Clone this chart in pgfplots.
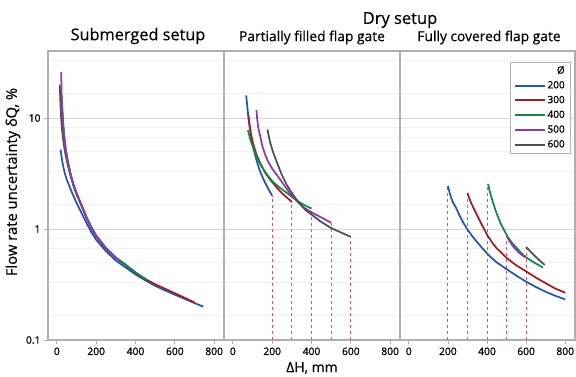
\documentclass[border=0pt]{standalone}
\usepackage{fontspec}
\setmainfont{Open Sans}[FakeBold=0.4]
\newfontfamily\tickfont{Open Sans}[FakeBold=1.0]
\usepackage{pgfplots}
\pgfplotsset{compat=1.18}
\definecolor{cblue}{RGB}{33,87,176}
\definecolor{cred}{RGB}{160,30,35}
\definecolor{cgreen}{RGB}{20,135,70}
\definecolor{cpurple}{RGB}{140,60,170}
\definecolor{cgray}{RGB}{80,80,80}
\definecolor{cdash}{RGB}{235,80,85}
\definecolor{frame}{RGB}{175,175,175}
\pgfplotsset{
 every axis/.append style={
  scale only axis, height=289pt,
  xmin=-45, xmax=850, ymin=0.1, ymax=40.2,
  xtick={0,200,400,600,800},
  ytick={0.1,1,10},
  minor ytick={0.1667,0.3333,0.5,0.6667,0.8333,1.667,3.333,5,6.667,8.333,16.67,33.33},
  ymajorgrids, yminorgrids,
  major grid style={draw=black!16, line width=0.9pt},
  minor grid style={draw=black!6, line width=0.6pt},
  axis line style={draw=frame, line width=1.1pt},
  tick style={draw=frame, line width=0.8pt},
  major tick length=4pt, minor tick length=0pt,
  tick align=outside, xtick pos=bottom, ytick pos=left,
  tick label style={font=\tickfont\fontsize{10.3}{12}\selectfont},
  clip=false,
 },
}
\tikzset{dsh/.style={cdash, line width=0.9pt, dash pattern=on 3.5pt off 2.5pt},
  cl/.style={#1, line width=1.75pt, line join=round}}
\begin{document}
\begin{tikzpicture}[x=1pt,y=1pt]
\useasboundingbox (0,0) rectangle (576,376);
% ---------------- Panel 1: Submerged ----------------
\begin{semilogyaxis}[width=176pt, at={(48pt,36pt)}, anchor=south west, yticklabels={0.1,1,10}, /pgf/number format/assume math mode=true]
\addplot[cl=cblue] coordinates {(19,5.2) (22,4.75) (25,4.35) (30,3.85) (35,3.5) (40,3.2) (50,2.8) (65,2.4) (81,2.05) (100,1.72) (125,1.4) (150,1.14) (175,0.94) (200,0.8) (250,0.63) (300,0.52) (350,0.45) (400,0.39) (450,0.345) (500,0.308) (550,0.28) (600,0.256) (650,0.235) (700,0.215) (745,0.2)};
\addplot[cl=cred] coordinates {(26,13) (29,10.4) (33,8.2) (38,6.5) (45,5.15) (55,4.05) (70,3.08) (85,2.48) (100,2.08) (125,1.63) (150,1.27) (175,1.02) (200,0.86) (250,0.665) (300,0.548) (350,0.473) (400,0.403) (450,0.354) (500,0.318) (550,0.29) (600,0.264) (650,0.24) (702,0.217)};
\addplot[cl=cgreen] coordinates {(24,16) (26,13.3) (29,10.5) (33,8.35) (38,6.65) (45,5.25) (55,4.12) (70,3.12) (85,2.5) (100,2.1) (125,1.65) (150,1.29) (175,1.04) (200,0.875) (250,0.675) (300,0.555) (350,0.478) (400,0.407) (456,0.35)};
\addplot[cl=cgray] coordinates {(15,20) (17,15.5) (19,12.5) (22,10) (26,8) (31,6.6) (38,5.4) (45,4.6) (55,3.8) (70,3.0) (85,2.45) (100,2.07) (125,1.63) (150,1.27) (200,0.86) (250,0.665) (280,0.6)};
\addplot[cl=cpurple] coordinates {(22,26) (23,21) (24,17) (26,13.5) (29,10.5) (33,8.3) (38,6.6) (45,5.2) (55,4.1) (70,3.1) (85,2.5) (100,2.1) (125,1.65) (150,1.28) (175,1.03) (200,0.87) (250,0.67) (270,0.61) (300,0.55) (320,0.52)};
\end{semilogyaxis}
% ---------------- Panel 2: Partially filled ----------------
\begin{semilogyaxis}[width=176pt, at={(224pt,36pt)}, anchor=south west, yticklabels={}, ytick style={draw=none}, /pgf/number format/assume math mode=true]
\addplot[dsh, forget plot] coordinates {(200,0.1) (200,2.0)};
\addplot[dsh, forget plot] coordinates {(300,0.1) (300,1.76)};
\addplot[dsh, forget plot] coordinates {(400,0.1) (400,1.53)};
\addplot[dsh, forget plot] coordinates {(500,0.1) (500,1.14)};
\addplot[dsh, forget plot] coordinates {(600,0.1) (600,0.85)};
\addplot[cl=cblue] coordinates {(68,16) (72,13.5) (77,11) (82,9.2) (88,7.8) (96,6.4) (105,5.3) (115,4.5) (125,3.9) (140,3.25) (158,2.75) (180,2.3) (200,2.0)};
\addplot[cl=cred] coordinates {(79,10.6) (84,9.0) (90,7.6) (98,6.4) (108,5.5) (122,4.6) (140,3.9) (165,3.2) (192,2.75) (220,2.4) (250,2.1) (275,1.92) (300,1.76)};
\addplot[cl=cgreen] coordinates {(77,7.8) (83,7.0) (90,6.3) (100,5.6) (110,5.0) (130,4.1) (158,3.4) (180,3.0) (200,2.7) (240,2.35) (277,2.1) (300,1.95) (330,1.78) (365,1.64) (400,1.53)};
\addplot[cl=cpurple] coordinates {(120,11.8) (124,9.8) (128,8.5) (133,7.6) (138,7.0) (150,5.6) (162,4.8) (175,4.2) (200,3.5) (234,2.9) (260,2.5) (290,2.1) (330,1.75) (360,1.57) (395,1.43) (450,1.27) (500,1.14)};
\addplot[cl=cgray] coordinates {(176,7.9) (183,6.8) (190,6.0) (205,4.9) (226,3.9) (250,3.05) (277,2.45) (300,2.12) (320,1.88) (345,1.65) (370,1.48) (400,1.35) (446,1.17) (500,1.02) (550,0.93) (600,0.85)};
\end{semilogyaxis}
% ---------------- Panel 3: Fully covered ----------------
\begin{semilogyaxis}[width=175pt, at={(400pt,36pt)}, anchor=south west, yticklabels={}, ytick style={draw=none},
  legend style={at={(0.971,0.962)}, anchor=north east, draw=black!30, fill=white,
    font=\tickfont\fontsize{10}{11}\selectfont, row sep=2pt, inner xsep=3pt, inner ysep=2pt},
  legend cell align=right,
  legend image code/.code={\draw[#1, line width=2pt] (0pt,0pt) -- (30pt,0pt);},
  /pgf/number format/assume math mode=true]
\addlegendimage{empty legend}\addlegendentry{Ø}
\addplot[dsh, forget plot] coordinates {(200,0.1) (200,2.45)};
\addplot[dsh, forget plot] coordinates {(300,0.1) (300,2.12)};
\addplot[dsh, forget plot] coordinates {(400,0.1) (400,2.55)};
\addplot[dsh, forget plot] coordinates {(500,0.1) (500,0.84)};
\addplot[dsh, forget plot] coordinates {(600,0.1) (600,0.69)};
\addplot[cl=cblue] coordinates {(200,2.45) (208,2.15) (215,1.95) (225,1.75) (242,1.55) (260,1.32) (280,1.13) (300,0.99) (325,0.86) (350,0.76) (380,0.66) (411,0.575) (450,0.5) (500,0.435) (550,0.38) (597,0.338) (650,0.3) (700,0.272) (750,0.25) (800,0.232)};
\addlegendentry{200}
\addplot[cl=cred] coordinates {(300,2.12) (310,1.88) (320,1.7) (335,1.5) (350,1.32) (375,1.08) (403,0.87) (430,0.74) (450,0.67) (500,0.55) (550,0.47) (605,0.41) (650,0.365) (700,0.325) (750,0.29) (800,0.267)};
\addlegendentry{300}
\addplot[cl=cgreen] coordinates {(406,2.55) (412,2.25) (420,2.0) (432,1.7) (445,1.45) (470,1.12) (504,0.86) (530,0.74) (550,0.68) (575,0.61) (597,0.56) (640,0.5) (686,0.45)};
\addlegendentry{400}
\addplot[cl=cpurple] coordinates {(504,0.84) (515,0.78) (530,0.71) (545,0.66) (560,0.62) (580,0.58) (597,0.555)};
\addlegendentry{500}
\addplot[cl=cgray] coordinates {(600,0.69) (625,0.62) (650,0.56) (675,0.51) (695,0.475)};
\addlegendentry{600}
\end{semilogyaxis}
% ---------------- Titles and labels ----------------
\node[font=\fontsize{16.3}{18}\selectfont] at (138,340) {Submerged setup};
\node[font=\fontsize{16.5}{18}\selectfont] at (400,356) {Dry setup};
\node[font=\fontsize{13.8}{15}\selectfont] at (312,338.5) {Partially filled flap gate};
\node[font=\fontsize{13.8}{15}\selectfont] at (489,338.5) {Fully covered flap gate};
\node[font=\fontsize{14.8}{16}\selectfont, rotate=90] at (13,194) {Flow rate uncertainty δQ, \%};
\node[font=\fontsize{14}{16}\selectfont] at (312,8) {ΔH, mm};
\end{tikzpicture}
\end{document}
